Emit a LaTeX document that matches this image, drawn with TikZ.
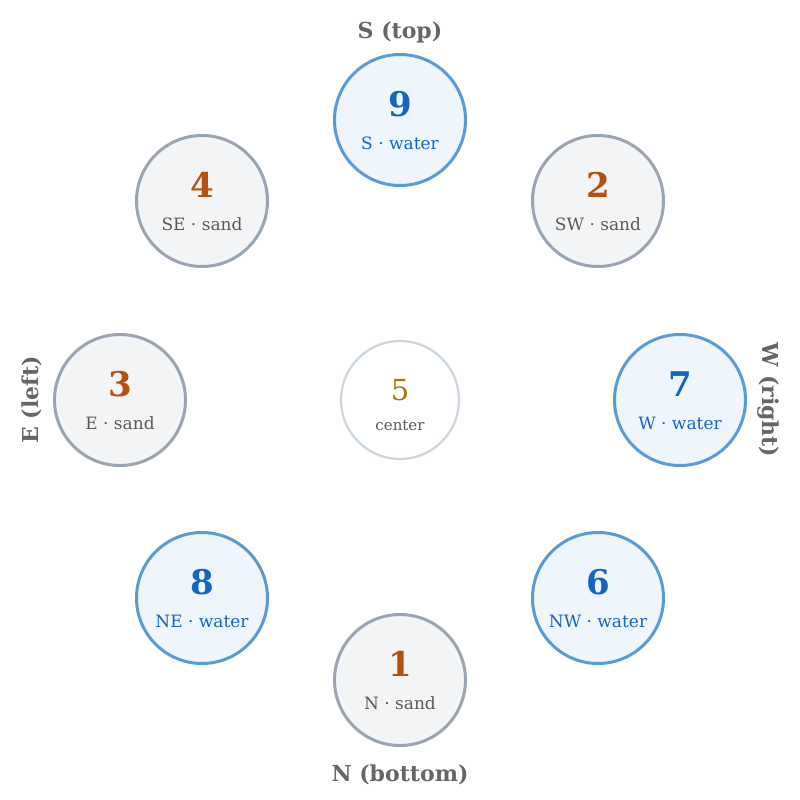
\documentclass[tikz,border=0pt]{standalone}
\usepackage{fontspec}
\setmainfont{DejaVu Serif}
\definecolor{waterfill}{HTML}{EEF5FD}
\definecolor{waterline}{HTML}{5B9BD5}
\definecolor{watertext}{HTML}{1565C0}
\definecolor{sandfill}{HTML}{F3F4F6}
\definecolor{sandline}{HTML}{9AA5B1}
\definecolor{sandnum}{HTML}{B5500F}
\definecolor{labtext}{HTML}{5A5A5A}
\definecolor{centerline}{HTML}{CBD5E1}
\definecolor{centernum}{HTML}{A07A10}
\definecolor{dirtext}{HTML}{666666}
\tikzset{
  water/.style={circle, draw=waterline, fill=waterfill, line width=3pt, minimum size=131pt, inner sep=0pt},
  sand/.style={circle, draw=sandline, fill=sandfill, line width=3pt, minimum size=131pt, inner sep=0pt},
  centre/.style={circle, draw=centerline, fill=white, line width=2.2pt, minimum size=118pt, inner sep=0pt},
  wnum/.style={font=\fontsize{34}{36}\selectfont\bfseries, text=watertext, anchor=base, inner sep=0pt},
  snum/.style={font=\fontsize{34}{36}\selectfont\bfseries, text=sandnum, anchor=base, inner sep=0pt},
  wlab/.style={font=\fontsize{17}{18}\selectfont, text=watertext, anchor=base, inner sep=0pt},
  slab/.style={font=\fontsize{17}{18}\selectfont, text=labtext, anchor=base, inner sep=0pt},
  dirlab/.style={font=\fontsize{22}{24}\selectfont\bfseries, text=dirtext, inner sep=0pt},
}
\begin{document}
\begin{tikzpicture}[x=1pt,y=-1pt]
\useasboundingbox (0,0) rectangle (800,800);
% circles
\node[water] (c9) at (400,120) {};
\node[sand]  (c2) at (598,201) {};
\node[water] (c7) at (680,400) {};
\node[water] (c6) at (598,598) {};
\node[sand]  (c1) at (400,680) {};
\node[water] (c8) at (202,598) {};
\node[sand]  (c3) at (120,400) {};
\node[sand]  (c4) at (202,201) {};
\node[centre] (c5) at (400,400) {};
% numbers and labels
\node[wnum] (n9) at ([yshift=4pt]c9.center) {9};
\node[wlab] (l9) at ([yshift=-29pt]c9.center) {S · water};
\node[snum] (n2) at ([yshift=4pt]c2.center) {2};
\node[slab] (l2) at ([yshift=-29pt]c2.center) {SW · sand};
\node[wnum] (n7) at ([yshift=4pt]c7.center) {7};
\node[wlab] (l7) at ([yshift=-29pt]c7.center) {W · water};
\node[wnum] (n6) at ([yshift=4pt]c6.center) {6};
\node[wlab] (l6) at ([yshift=-29pt]c6.center) {NW · water};
\node[snum] (n1) at ([yshift=4pt]c1.center) {1};
\node[slab] (l1) at ([yshift=-29pt]c1.center) {N · sand};
\node[wnum] (n8) at ([yshift=4pt]c8.center) {8};
\node[wlab] (l8) at ([yshift=-29pt]c8.center) {NE · water};
\node[snum] (n3) at ([yshift=4pt]c3.center) {3};
\node[slab] (l3) at ([yshift=-29pt]c3.center) {E · sand};
\node[snum] (n4) at ([yshift=4pt]c4.center) {4};
\node[slab] (l4) at ([yshift=-29pt]c4.center) {SE · sand};
\node[font=\fontsize{29}{30}\selectfont, text=centernum, anchor=base, inner sep=0pt] (n5) at ([yshift=0pt]c5.center) {5};
\node[font=\fontsize{15}{16}\selectfont, text=labtext, anchor=base, inner sep=0pt] (l5) at ([yshift=-30pt]c5.center) {center};
% direction labels
\node[dirlab] (dS) at (400,32) {S (top)};
\node[dirlab] (dN) at (400,775) {N (bottom)};
\node[dirlab, rotate=90] (dE) at (32,400) {E (left)};
\node[dirlab, rotate=-90] (dW) at (768,400) {W (right)};
\end{tikzpicture}
\end{document}
